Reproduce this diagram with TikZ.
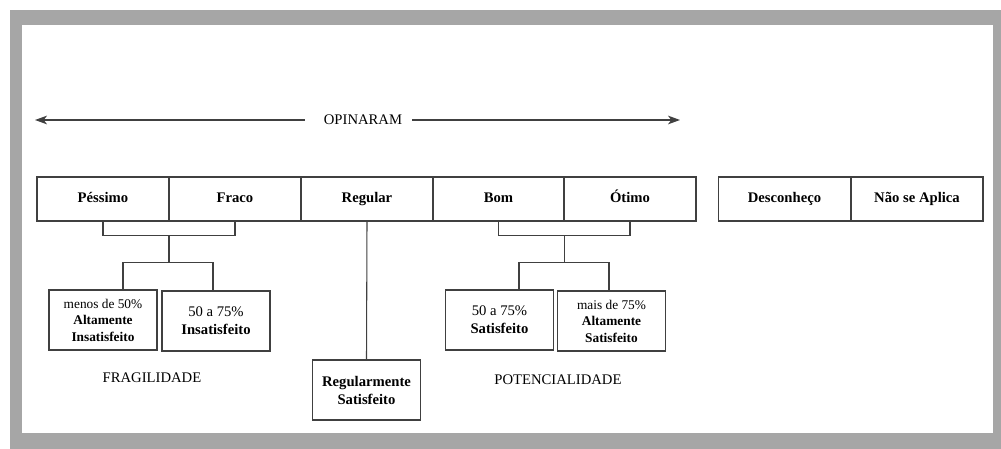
\documentclass[tikz,border=0pt]{standalone}
\usepackage{fontspec}
\setmainfont{Liberation Serif}
\usetikzlibrary{arrows.meta, calc}

\begin{document}
\begin{tikzpicture}[x=0.75pt, y=-0.75pt, >={Stealth[length=9pt, width=6.5pt, inset=2.5pt]},
  cell/.style={draw=black!75, line width=0.8pt, minimum width=99pt, minimum height=33pt,
    inner sep=0pt, text height=1.7ex, text depth=0.5ex, font=\fontsize{11}{13}\selectfont\bfseries},
  sub/.style={draw=black!75, line width=0.8pt, minimum width=81pt, minimum height=45pt,
    inner sep=0pt, align=center},
  lnk/.style={black!75, line width=0.8pt}]

\useasboundingbox (0,0) rectangle (1001,449);
\fill[black!35] (10,10) rectangle (1001,449);
\fill[white] (22,25) rectangle (993,433);


\def\ry{199}
\def\dy{14}
\def\my{27}

\node[font=\fontsize{11}{13}\selectfont] (op) at (363,120) {OPINARAM};
\coordinate (la) at (35,120);
\coordinate (ra) at (680,120);
\draw[->, lnk, shorten <=11pt] (op.west) -- (la);
\draw[->, lnk, shorten <=4pt] (op.east) -- (ra);


\node[cell] (pes) at (103,\ry) {Péssimo};
\node[cell] (fra) at (235,\ry) {Fraco};
\node[cell] (reg) at (367,\ry) {Regular};
\node[cell] (bom) at (498.5,\ry) {Bom};
\node[cell] (oti) at (630,\ry) {Ótimo};
\node[cell] (des) at (784.5,\ry) {Desconheço};
\node[cell] (nsa) at (917,\ry) {Não se Aplica};


\node[sub, font=\fontsize{10}{12.4}\selectfont] (alt) at (103,320)
  {menos de 50\%\\\textbf{Altamente}\\\textbf{Insatisfeito}};
\node[sub, font=\fontsize{11}{13.5}\selectfont] (ins) at (216,321)
  {50 a 75\%\\\textbf{Insatisfeito}};
\node[sub, font=\fontsize{11}{13.5}\selectfont\bfseries] (rsat) at (366.5,390)
  {Regularmente\\Satisfeito};
\node[sub, font=\fontsize{11}{13.5}\selectfont] (sat) at (499.5,320)
  {50 a 75\%\\\textbf{Satisfeito}};
\node[sub, font=\fontsize{10}{12.4}\selectfont] (asat) at (611.5,321)
  {mais de 75\%\\\textbf{Altamente}\\\textbf{Satisfeito}};

\node[font=\fontsize{11}{13}\selectfont] (frag) at (152,378) {FRAGILIDADE};
\node[font=\fontsize{11}{13}\selectfont] (pot) at (558,380) {POTENCIALIDADE};


% fragilidade
\draw[lnk] (pes.south) -- ++(0,\dy) -| (fra.south);
\coordinate (fb) at ($(pes.south)!0.5!(fra.south)+(0,\dy)$);
\draw[lnk] (fb) -- ++(0,\my) coordinate (fm);
\draw[lnk] ($(alt.north)+(20,0)$) |- (fm) -| ($(ins.north)+(-3,0)$);

% regular
\draw[lnk] (reg.south) -- (rsat.north);

% potencialidade
\draw[lnk] (bom.south) -- ++(0,\dy) -| (oti.south);
\coordinate (pb) at ($(bom.south)!0.5!(oti.south)+(0,\dy)$);
\draw[lnk] (pb) -- ++(0,\my) coordinate (pm);
\draw[lnk] ($(sat.north)+(19.5,0)$) |- (pm) -| ($(asat.north)+(-2.5,0)$);

\end{tikzpicture}
\end{document}
